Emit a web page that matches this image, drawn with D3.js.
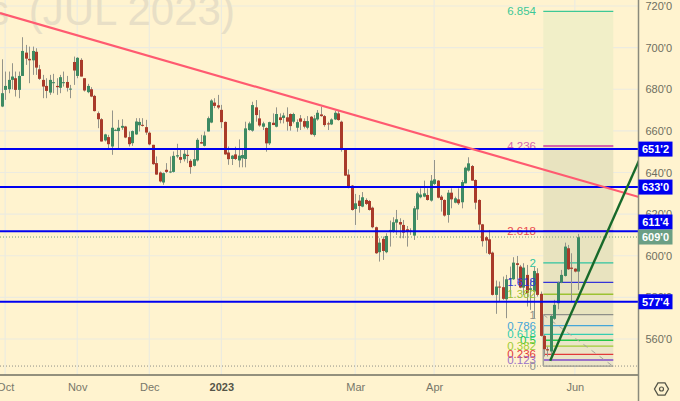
<!DOCTYPE html>
<html><head><meta charset="utf-8">
<script src="https://cdn.jsdelivr.net/npm/d3@7"></script>
<style>html,body{margin:0;padding:0;background:#fff3cf}svg{display:block}text{font-family:"Liberation Sans",Arial,sans-serif}</style>
</head><body><svg id="c" width="680" height="401"></svg>
<script>
// [open, high, low, close]
const candles=[
[671.7,694.4,671.4,678.1],[679.7,688.5,674.9,681.6],[680,688.5,678.1,684.5],[684.5,692.5,680,686.1],[685.3,688.5,676.5,679.7],[679.7,688.5,675.7,686.4],[686.4,705,686.4,698.4],[697.6,701.3,691.7,694.7],[694.6,700.5,682.9,693.9],[693.9,700.5,686.9,698.4],
[698,699.7,686.9,690.4],[689.6,691.7,684.5,685],[684.5,686.9,675.7,681.3],[681.6,685.3,675.7,679.2],[678.4,686.9,677.3,684.5],[682.9,687.4,678.1,683.4],[681.6,685.3,677.3,681],[680.7,686.9,678.1,685.8],[682.9,688.5,681.3,683.4],[683.5,686.4,678.9,680.7],
[679.9,682.1,675.7,680.3],[693.1,695.7,682.1,689],[686.4,695.4,685.3,695.1],[694.1,694.9,686.1,686.1],[685.3,685.3,678.9,679.4],[678.6,682.6,678.1,681.6],[680,681,676.2,676.5],[676.8,677.3,669.3,669.5],[668.5,669.3,661.3,665.6],[665.6,666.1,654.9,654.9],
[655.4,658.6,654.9,658.3],[657,658.1,651.7,653.6],[652.5,669.8,648.5,661.5],[660.2,660.8,659.9,660.5],[659.9,665.3,650.9,661.5],[661.5,665.6,660.5,662.4],[662.1,662.4,656.5,656.8],[657,659.7,652.5,653.6],[654.1,660.2,652.8,659.9],[658.3,666.1,658.1,664.5],
[662.7,666.1,659.7,664.3],[662.9,666.1,662.1,662.4],[661.8,665.3,658.1,659.2],[659.1,659.7,653.1,653.5],[653.3,653.3,643.7,644],[644.5,647.7,638.9,639],[640,640.5,635.2,635.7],[635.2,640,634.1,639.7],[641.3,644.5,639.7,640.3],[640,647.7,639.7,640.5],
[640.3,650.1,640,648],[647.7,653.8,646.9,648.3],[647.4,651.2,644.5,646.1],[646.4,650.9,645.3,649],[648.5,651.7,644.5,647.9],[645.6,646.4,639.4,642.6],[643.2,650.9,642.9,646.4],[645.8,656.5,645.3,655.7],[654.6,658.1,653.8,653.9],[652.8,659.7,652.5,657.8],
[659.7,666.9,659.7,666.1],[664,675.2,663.7,674.6],[673.6,675.7,670.9,672],[672.3,677.3,670.4,671.2],[670.1,672.5,661.3,664.2],[664.3,664.5,648.5,648.7],[649.6,652.5,643.7,646.4],[646.5,648.4,643.6,648.1],[648.7,652.4,646,646.5],[645.8,655.9,642.5,648.1],
[646.8,650.8,642.5,648.4],[646.5,664.4,642.5,661.2],[660.4,664.4,660.1,663.6],[660.1,674,659.6,672.4],[671.3,674.8,664.4,667.6],[666,670,662,662.6],[662,664.4,660.4,663.6],[661.4,661.7,650,654],[654,664.4,653.2,664.2],[663.9,668.4,662.8,662.8],
[662,671.3,661.7,668.1],[666.5,668.4,663.6,665.2],[666.2,668.7,663.6,667.4],[666.5,671.3,660.1,664.4],[668.1,668.4,660.1,662.3],[664.4,668.7,663.6,668.1],[661.5,665.5,659.6,664.2],[666,667.6,660.4,664.4],[664.7,666,661.2,662],[661.5,667.1,660.7,664.7],
[666.8,667.1,658,658.3],[658,667.6,657.2,666],[665.5,670,664.9,668.7],[667.9,671.6,666.8,667.1],[667.1,667.6,662,662.8],[663.6,664.4,660.4,663.1],[663.1,666,662.8,665.5],[665.5,669.7,665.2,668.7],[668.4,670,664.9,665.2],[664.4,664.9,650,651.1],
[650.8,651.6,638.3,638.5],[639,641.5,632.4,633.2],[633.7,634,621.7,622],[622.5,629.7,614.8,625.2],[626.5,629.2,620.7,623.9],[623.6,630.6,623.3,628.1],[626.8,627.6,624.4,624.9],[626.3,626.8,621.7,622],[623.1,623.6,613.2,613.7],[613.7,614,600.9,601.2],
[601.7,608.4,597.2,606.3],[608.1,609.2,598,602.3],[601.7,610.8,601.2,609.5],[611.8,616.9,604.4,612.4],[611.6,618.5,611.1,616.1],[615.9,622,610,617.5],[616.2,618,608.4,615],[614.8,617.2,608.4,611.1],[612.7,614.3,604.4,611.4],[612.1,613.2,610,611.6],
[609.7,623.9,607.6,622.8],[622.3,630.8,617.2,630],[628.1,632.4,627.6,629.4],[628.4,636.1,628.1,630],[629.2,632.4,626.5,626.8],[626.5,638.8,626,636.1],[634.5,646,634,636.7],[636.1,636.4,627.6,627.9],[628.4,629.2,621.2,626.8],[626.8,627.1,618.8,619.3],
[619.6,631.6,615.9,630.3],[630.3,632.4,622.8,627.1],[625.5,628.4,625.2,627.6],[627.1,632.4,624.4,625.2],[625.7,636.4,622.8,635.4],[634.8,642.8,634.8,642.3],[640.9,647.3,640.4,644.4],[643.1,643.6,636.1,636.1],[636.4,636.7,622.3,625.5],[626.8,627.1,612.4,615],
[615.1,615.3,604.4,607],[608.9,609.5,601.2,607.3],[607.9,612.4,600.4,600.9],[601.5,602,580.9,581.2],[581.2,588.1,572.1,585.2],[585.2,587.6,578,584.7],[584.9,590,578.8,579.3],[579.1,590.8,570,588.7],[588.7,594.8,581.2,589.2],[588.7,599.3,588.4,596.7],
[596.4,599.9,588.4,595.6],[594.8,595.6,584.4,584.7],[584.7,596.4,581.2,594.3],[590.8,595.6,575.6,582],[583.6,588.4,574,584.4],[582.8,594.8,570,592.7],[591.6,594,580.4,581.2],[581.7,582.8,561.2,561.5],[561.5,562,551.6,555.1],[555.1,556.4,551.6,554.5],
[554,571.6,551.6,571.1],[569.7,578.8,569.2,576.4],[577.2,587.6,574.3,587.1],[587.1,593.2,586.8,590.8],[590.3,606.3,590,604.4],[603.6,605.2,593.2,593.5],[594.3,601.2,578,593.7],[593.8,594,592,592.4],[592.4,610.5,583.6,608.9]];
const monthBars=[1,22,43,64,103,126,167];
const monthLabels=["Oct","Nov","Dec","2023","Mar","Apr","Jun"];
const priceTicks=[720,700,680,660,640,620,600,580,560];
const levelPrices=[651.25,633,611.8,577.9];
const levelLabels=["651'2","633'0","611'4","577'4"];
const lastPrice=609, lastLabel="609'0";
const fibRatios=["6.854","4.236","2.618","2","1.618","1.382","1","0.786","0.618","0.5","0.382","0.236","0.123","0"];
const fibPrices=[717.4,652.7,612,596.6,587.2,581.5,571.7,566.4,562.2,559.4,556.6,552.6,549.9,547];
const fibColors=["#3cc896","#d565ad","#ea4a50","#2fc4a0","#3434d8","#9cc232","#8f8f88","#45a6d8","#34cdb0","#24c648","#a0cc34","#e23a3a","#9a72c8","#9a9a92"];
const fibSpan=[157.8,178.2];
const redTrend=[[-0.5,716.6],[185.7,628.2]];
const greenTrend=[[159.8,549.6],[185.7,645.8]];
const fibDiag=[[157.8,571.7],[177.7,547.4]];

const W=680,H=401,axisX=638.5,axisY=375,tagH=15;
const x=d3.scaleLinear().domain([0,candles.length-1]).range([1.7,578.3]);
const y=d3.scaleLinear().domain([720,560]).range([6,339]);
const svg=d3.select("#c");
svg.append("rect").attr("width",W).attr("height",H).attr("fill","#fff3cf");
const plot=svg.append("g");
const clipId="plotclip";
svg.append("defs").append("clipPath").attr("id",clipId).append("rect").attr("width",axisX).attr("height",axisY);
plot.attr("clip-path",`url(#${clipId})`);

// grid
plot.append("g").selectAll("line").data(priceTicks.concat([540])).join("line")
 .attr("x1",0).attr("x2",axisX).attr("y1",d=>y(d)).attr("y2",d=>y(d)).attr("stroke","#ecebe0").attr("stroke-width",1.2);
plot.append("g").selectAll("line").data(monthBars).join("line")
 .attr("x1",d=>x(d)).attr("x2",d=>x(d)).attr("y1",0).attr("y2",axisY).attr("stroke","#ecebe0").attr("stroke-width",1.2);

// watermark
const wm=plot.append("text").attr("x",-12).attr("y",25).attr("font-size",42).attr("fill","#e8dfc6").attr("font-family","Open Sans").attr("id","wm");
wm.append("tspan").text("s ");
wm.append("tspan").attr("dx",8).text("(JUL 2023)");

// fib bands
const fx0=x(fibSpan[0]),fx1=x(fibSpan[1]);
plot.append("rect").attr("x",fx0).attr("width",fx1-fx0).attr("y",y(fibPrices[0])).attr("height",y(fibPrices[1])-y(fibPrices[0])).attr("fill","#f1efc8");
plot.append("rect").attr("x",fx0).attr("width",fx1-fx0).attr("y",y(fibPrices[1])).attr("height",y(fibPrices[6])-y(fibPrices[1])).attr("fill","#e8e3bf");
plot.append("rect").attr("x",fx0).attr("width",fx1-fx0).attr("y",y(fibPrices[6])).attr("height",y(fibPrices[13])-y(fibPrices[6])).attr("fill","#ebe5c8");

// zero + last dotted
plot.append("line").attr("x1",0).attr("x2",axisX).attr("y1",y(547)).attr("y2",y(547)).attr("stroke","#8f8f88").attr("stroke-dasharray","1 2");
plot.append("line").attr("x1",0).attr("x2",axisX).attr("y1",y(lastPrice)).attr("y2",y(lastPrice)).attr("stroke","#6f9f78").attr("stroke-dasharray","1 2");

// fib lines
plot.append("g").selectAll("line").data(fibPrices).join("line")
 .attr("x1",fx0).attr("x2",fx1).attr("y1",d=>y(d)).attr("y2",d=>y(d))
 .attr("stroke",(d,i)=>fibColors[i]).attr("stroke-width",(d,i)=>(i==1||i==12)?2:1.3);
plot.append("line").attr("x1",fx0).attr("x2",fx0).attr("y1",y(fibPrices[6])).attr("y2",y(547)).attr("stroke","#a5a59c").attr("stroke-width",1.5);
plot.append("line").attr("x1",x(fibDiag[0][0])).attr("y1",y(fibDiag[0][1])).attr("x2",x(fibDiag[1][0])).attr("y2",y(fibDiag[1][1])).attr("stroke","#a5a59c").attr("stroke-width",1).attr("stroke-dasharray","5 5");

// candles
const g=plot.append("g").selectAll("g").data(candles).join("g");
g.append("line").attr("x1",(d,i)=>Math.round(x(i))+.5).attr("x2",(d,i)=>Math.round(x(i))+.5)
 .attr("y1",d=>y(d[1])).attr("y2",d=>y(d[2])).attr("stroke","#94948a");
g.append("rect").attr("x",(d,i)=>Math.round(x(i))-1).attr("width",3)
 .attr("y",d=>y(Math.max(d[0],d[3]))).attr("height",d=>Math.max(1,Math.abs(y(d[0])-y(d[3]))))
 .attr("fill",d=>d[3]>=d[0]?"#3d8a62":"#a93a2a");

// fib text
plot.append("g").selectAll("text").data(fibRatios).join("text")
 .attr("x",536).attr("y",(d,i)=>y(fibPrices[i])+4).attr("text-anchor","end").attr("font-size",11.5)
 .attr("fill",(d,i)=>fibColors[i]).text(d=>d);

// blue levels
plot.append("g").selectAll("line").data(levelPrices).join("line")
 .attr("x1",0).attr("x2",axisX).attr("y1",d=>y(d)).attr("y2",d=>y(d)).attr("stroke","#0000f0").attr("stroke-width",2);

// trends
const ln=d3.line().x(d=>x(d[0])).y(d=>y(d[1]));
plot.append("path").attr("d",ln(redTrend)).attr("fill","none").attr("stroke","#ff5a70").attr("stroke-width",2.2);
plot.append("path").attr("d",ln(greenTrend)).attr("fill","none").attr("stroke","#17692a").attr("stroke-width",2.4);

// axes
const ya=d3.axisRight(y).tickValues(priceTicks).tickSize(0).tickPadding(7).tickFormat(d=>d+"'0");
const yg=svg.append("g").attr("transform",`translate(${axisX},0)`).call(ya);
yg.select(".domain").remove();
yg.selectAll("text").attr("font-size",11).attr("fill","#6e6e60").attr("font-family","Liberation Sans");
const xa=d3.axisBottom(x).tickValues(monthBars).tickSize(0).tickPadding(8).tickFormat((d,i)=>monthLabels[i]);
const xg=svg.append("g").attr("transform",`translate(0,${axisY})`).call(xa);
xg.select(".domain").remove();
xg.selectAll("text").attr("font-size",11).attr("fill",(d,i)=>monthLabels[i]=="2023"?"#555548":"#77776a").attr("font-weight",(d,i)=>monthLabels[i]=="2023"?"bold":"normal").attr("font-family","Liberation Sans");
svg.append("line").attr("x1",0).attr("x2",axisX).attr("y1",axisY).attr("y2",axisY).attr("stroke","#6f6f62").attr("stroke-width",1.5);
svg.append("line").attr("x1",axisX).attr("x2",axisX).attr("y1",0).attr("y2",H).attr("stroke","#8a8a7c").attr("stroke-width",1.5);

// price tags: a level tag that would collide with the last-price tag is pushed above it
const tagY=d=>{const a=y(d),b=y(lastPrice);return Math.abs(a-b)<tagH?b-tagH:a;};
const tags=svg.append("g").selectAll("g").data(levelPrices).join("g");
tags.append("rect").attr("x",axisX).attr("width",34).attr("y",d=>tagY(d)-tagH/2).attr("height",tagH).attr("fill","#0000f0");
tags.append("text").attr("x",axisX+17).attr("y",d=>tagY(d)+4).attr("text-anchor","middle").attr("fill","#fff").attr("font-weight","bold").attr("font-size",11).text((d,i)=>levelLabels[i]);
svg.append("rect").attr("x",axisX).attr("width",34).attr("y",y(lastPrice)-tagH/2).attr("height",tagH).attr("fill","#6b9f84");
svg.append("text").attr("x",axisX+17).attr("y",y(lastPrice)+4).attr("text-anchor","middle").attr("fill","#fff").attr("font-weight","bold").attr("font-size",11).text(lastLabel);

// settings icon
const hex=d3.range(6).map(i=>[661.5+7*Math.cos(i*Math.PI/3),389+7*Math.sin(i*Math.PI/3)]);
svg.append("path").attr("d",d3.line()(hex)+"Z").attr("fill","none").attr("stroke","#555548").attr("stroke-width",1.3);
svg.append("circle").attr("cx",661.5).attr("cy",389).attr("r",2).attr("fill","none").attr("stroke","#555548").attr("stroke-width",1.2);
</script></body></html>
